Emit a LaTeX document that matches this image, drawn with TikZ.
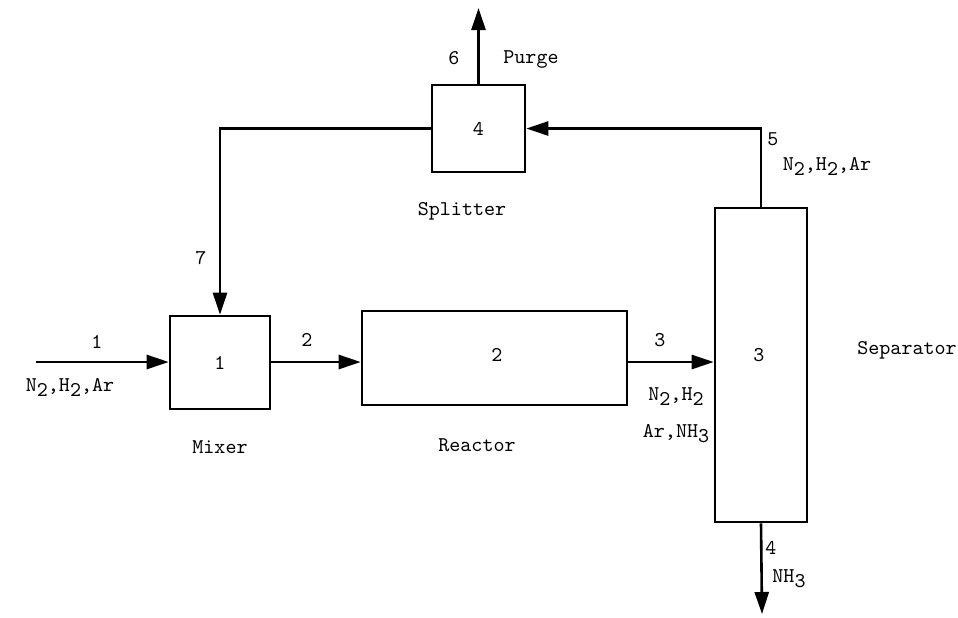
\documentclass[tikz,border=0pt]{standalone}
\usetikzlibrary{arrows.meta}
\newcommand\lowr[1]{\raisebox{-0.55ex}{#1}}
\begin{document}
\begin{tikzpicture}[x=0.5pt,y=-0.5pt,
  box/.style={draw,line width=1.3pt,inner sep=0pt},
  flow/.style={line width=1.3pt,-{Triangle[length=11pt,width=7pt]}},
  lbl/.style={inner sep=0pt},
  every node/.style={font=\ttfamily\fontsize{10.5}{12}\selectfont}]
\useasboundingbox (0,0) rectangle (958,617);
% units
\node[box,minimum width=50pt,minimum height=46.5pt] (mix) at (220,362.5) {1};
\node[box,minimum width=132.5pt,minimum height=47pt] (reac) at (494.5,358) {};
\node[lbl] (reacn) at (497,355) {2};
\node[box,minimum width=46pt,minimum height=157pt] (sep) at (761,365) {};
\node[lbl] (sepn) at (759,355) {3};
\node[box,minimum width=46.5pt,minimum height=43.5pt] (spl) at (478.5,128.5) {4};
% names
\node[lbl] (mixl) at (220,447) {Mixer};
\node[lbl] (reacl) at (477,445) {Reactor};
\node[lbl] (sepl) at (907,350) {Separator};
\node[lbl] (spll) at (462,211) {Splitter};
% streams
\coordinate (in1) at (36,362);
\draw[flow] (in1) -- (in1 -| mix.west);
\node[lbl] (s1) at (97,342) {1};
\node[lbl] (c1) at (70,387) {N\lowr{2},H\lowr{2},Ar};
\draw[flow] (in1 -| mix.east) -- (in1 -| reac.west);
\node[lbl] (s2) at (307,340) {2};
\draw[flow] (in1 -| reac.east) -- (in1 -| sep.west);
\node[lbl] (s3) at (660,340) {3};
\node[lbl] (c3a) at (676,397) {N\lowr{2},H\lowr{2}};
\node[lbl] (c3b) at (676,434) {Ar,NH\lowr{3}};
\coordinate (out4) at (762,614);
\draw[flow] (sep.south) -- (out4);
\node[lbl] (s4) at (771,548) {4};
\node[lbl] (c4) at (789,579) {NH\lowr{3}};
\draw[flow] (sep.north) |- (spl.east);
\node[lbl] (s5) at (773,139) {5};
\node[lbl] (c5) at (827,166) {N\lowr{2},H\lowr{2},Ar};
\coordinate (out6) at (478.5,8);
\draw[flow] (spl.north) -- (out6);
\node[lbl] (s6) at (454,58) {6};
\node[lbl] (c6) at (531,59) {Purge};
\draw[flow] (spl.west) -| (mix.north);
\node[lbl] (s7) at (201,258) {7};
\end{tikzpicture}
\end{document}
